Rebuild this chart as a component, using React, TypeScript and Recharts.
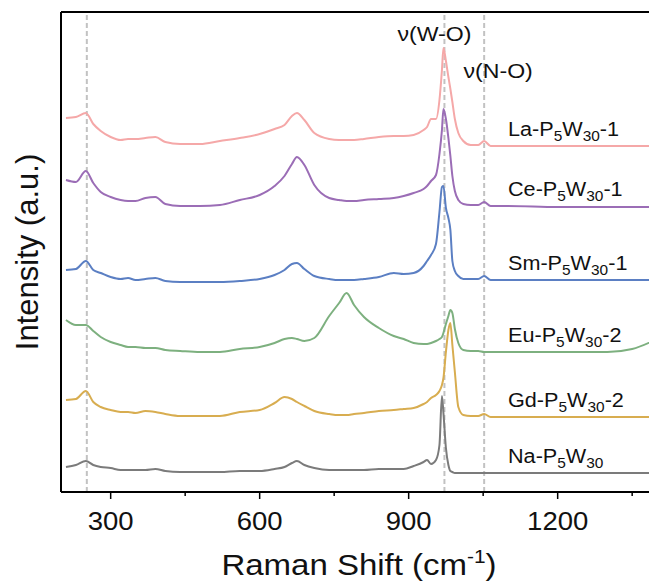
import { Label, Line, LineChart, ReferenceDot, ReferenceLine, XAxis, YAxis } from "recharts";

// Raman shift (cm-1) sampling points shared by all spectra
const shifts = [
  210, 230, 250, 265, 280, 300, 320, 335, 350, 370, 390, 410, 440, 480, 520, 560, 600, 630, 650, 665,
  675, 690, 710, 740, 760, 775, 790, 810, 840, 870, 890, 910, 930, 937, 945, 955, 962, 967, 970, 975,
  980, 984, 988, 993, 1000, 1010, 1025, 1040, 1052, 1065, 1100, 1200, 1300, 1350, 1400,
];

// stacked intensities (a.u.), offsets already applied
const laP5W30 = [
  374, 375, 379, 368, 361, 355, 352, 353, 353, 354, 355, 350, 348, 348, 351, 354, 358, 363, 367, 376,
  379, 372, 359, 353, 352, 352, 352, 353, 355, 356, 356, 357, 362, 365, 373, 373, 392, 422, 444, 431,
  415, 403, 390, 373, 359, 351, 347, 347, 351, 346, 346, 346, 346, 346, 346,
];
const ceP5W30 = [
  312, 310, 321, 309, 300, 295, 292, 291, 291, 294, 295, 288, 286, 286, 287, 292, 297, 306, 316, 328,
  335, 327, 307, 294, 292, 291, 291, 292, 293, 294, 296, 299, 303, 306, 311, 317, 338, 362, 383, 373,
  354, 336, 316, 301, 292, 288, 287, 287, 290, 286, 286, 285, 285, 285, 285,
];
const smP5W30 = [
  222, 223, 231, 222, 219, 215, 213, 214, 212, 213, 214, 211, 210, 210, 210, 211, 213, 217, 222, 228,
  229, 223, 216, 213, 212, 212, 212, 213, 215, 219, 218, 219, 226, 231, 237, 248, 280, 305, 306, 284,
  274, 262, 231, 221, 216, 213, 213, 213, 216, 212, 212, 212, 212, 212, 212,
];
const euP5W30 = [
  172, 167, 167, 161, 155, 150, 147, 145, 145, 144, 144, 142, 141, 140, 140, 143, 145, 149, 153, 154,
  153, 151, 154, 176, 189, 199, 187, 175, 164, 156, 153, 149, 148, 148, 149, 151, 153, 155, 159, 168,
  176, 182, 179, 163, 149, 142, 141, 141, 140, 140, 140, 140, 140, 143, 153,
];
const gdP5W30 = [
  92, 93, 101, 90, 85, 82, 80, 80, 79, 81, 80, 78, 76, 76, 76, 80, 82, 89, 95, 93,
  90, 86, 81, 78, 77, 77, 78, 79, 81, 82, 83, 84, 88, 90, 94, 97, 101, 107, 114, 140,
  162, 169, 147, 120, 85, 77, 76, 76, 78, 75, 75, 75, 75, 75, 75,
];
const naP5W30 = [
  25, 27, 31, 27, 25, 24, 22, 22, 22, 22, 23, 21, 20, 20, 20, 21, 21, 23, 25, 29,
  31, 27, 24, 22, 22, 22, 22, 22, 23, 23, 23, 26, 30, 32, 28, 32, 47, 96, 79, 44,
  27, 21, 20, 19, 19, 19, 19, 19, 19, 19, 19, 19, 19, 19, 19,
];

const majorTicks = [300, 600, 900, 1200];
const minorTicks = [450, 750, 1050, 1350];
const markerShifts = [252, 972, 1052];
const labelShift = 1100;

const series = [
  { key: "la", metal: "La", suffix: "-1", color: "#f5a8a8", values: laP5W30 },
  { key: "ce", metal: "Ce", suffix: "-1", color: "#9b6db6", values: ceP5W30 },
  { key: "sm", metal: "Sm", suffix: "-1", color: "#5b7fc3", values: smP5W30 },
  { key: "eu", metal: "Eu", suffix: "-2", color: "#7db07f", values: euP5W30 },
  { key: "gd", metal: "Gd", suffix: "-2", color: "#d8ad50", values: gdP5W30 },
  { key: "na", metal: "Na", suffix: "", color: "#7b7b7b", values: naP5W30 },
];

const rows = shifts.map((shift, i) => {
  const row: Record<string, number> = { shift };
  series.forEach((s) => (row[s.key] = s.values[i]));
  return row;
});

const FONT = "'Liberation Sans', Arial, sans-serif";
const INK = "#111";

function Stretch({ x, y, size, anchor = "start", sx = 1.1, children }: any) {
  return (
    <text
      transform={`translate(${x} ${y}) scale(${sx} 1)`}
      fontSize={size}
      fontFamily={FONT}
      textAnchor={anchor}
      fill={INK}
    >
      {children}
    </text>
  );
}

function AxisTick({ x, y, payload }: any) {
  const major = majorTicks.includes(payload.value);
  return (
    <g>
      <line x1={x} y1={y} x2={x} y2={y + (major ? 7 : 4)} stroke="#000" strokeWidth={1.5} />
      {major ? (
        <Stretch x={x} y={y + 38} size={25} anchor="middle">
          {payload.value}
        </Stretch>
      ) : null}
    </g>
  );
}

function XTitle({ viewBox }: any) {
  return (
    <Stretch x={viewBox.x + viewBox.width / 2} y={viewBox.y + 83} size={30} anchor="middle">
      Raman Shift (cm
      <tspan fontSize={19} dy={-12}>-1</tspan>
      <tspan dy={12}>)</tspan>
    </Stretch>
  );
}

function YTitle({ viewBox }: any) {
  const cx = viewBox.x + 38;
  const cy = viewBox.y + viewBox.height / 2;
  return (
    <text
      transform={`translate(${cx} ${cy}) rotate(-90)`}
      fontSize={31}
      fontFamily={FONT}
      textAnchor="middle"
      fill={INK}
    >
      Intensity (a.u.)
    </text>
  );
}

function seriesLabel(metal: string, suffix: string) {
  return (p: any) => (
    <Stretch x={p.cx} y={p.cy - 10} size={21} sx={1.03}>
      {metal}-P
      <tspan fontSize={15} dy={5}>5</tspan>
      <tspan dy={-5}>W</tspan>
      <tspan fontSize={15} dy={5}>30</tspan>
      <tspan dy={-5}>{suffix}</tspan>
    </Stretch>
  );
}

function bandLabel(text: string, dx: number, dy: number) {
  return (p: any) => (
    <Stretch x={p.cx + dx} y={p.cy + dy} size={21} anchor="middle">
      {text}
    </Stretch>
  );
}

export default function App() {
  const labelIndex = shifts.indexOf(labelShift);
  return (
    <div
      style={{
        position: "absolute",
        left: 0,
        top: 0,
        width: 649,
        height: 584,
        overflow: "hidden",
        background: "#fff",
      }}
    >
      <LineChart width={657} height={584} data={rows} margin={{ top: 12, right: 0, bottom: 0, left: 0 }}>
        <XAxis
          dataKey="shift"
          type="number"
          domain={[200, 1400]}
          ticks={[...majorTicks, ...minorTicks].sort((a, b) => a - b)}
          interval={0}
          tick={AxisTick}
          tickLine={false}
          tickSize={0}
          tickMargin={0}
          height={92}
          axisLine={{ stroke: "#000", strokeWidth: 2 }}
          allowDataOverflow
        >
          <Label content={XTitle} />
        </XAxis>
        <YAxis
          type="number"
          domain={[0, 480]}
          width={61}
          tick={false}
          tickLine={false}
          axisLine={{ stroke: "#000", strokeWidth: 2 }}
          allowDataOverflow
        >
          <Label content={YTitle} />
        </YAxis>
        {markerShifts.map((m) => (
          <ReferenceLine key={m} x={m} stroke="#c2c2c2" strokeWidth={2} strokeDasharray="5 3" />
        ))}
        <ReferenceLine y={480} stroke="#000" strokeWidth={2} />
        <ReferenceLine x={1400} stroke="#000" strokeWidth={2} />
        {series.map((s) => (
          <Line
            key={s.key}
            dataKey={s.key}
            type="monotone"
            stroke={s.color}
            strokeWidth={2}
            dot={false}
            isAnimationActive={false}
          />
        ))}
        {series.map((s) => (
          <ReferenceDot
            key={`lbl-${s.key}`}
            x={labelShift}
            y={s.values[labelIndex]}
            r={0}
            shape={seriesLabel(s.metal, s.suffix)}
          />
        ))}
        <ReferenceDot x={972} y={480} r={0} shape={bandLabel("ν(W-O)", -10, 29)} />
        <ReferenceDot x={1052} y={480} r={0} shape={bandLabel("ν(N-O)", 14, 66)} />
      </LineChart>
    </div>
  );
}
